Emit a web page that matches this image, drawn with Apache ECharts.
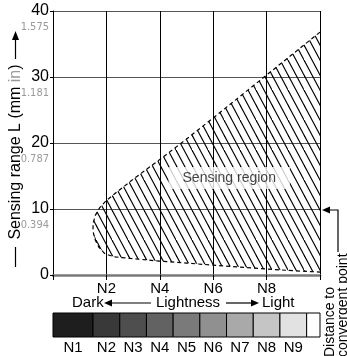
<!DOCTYPE html>
<html>
<head>
<meta charset="utf-8">
<script src="https://cdn.jsdelivr.net/npm/echarts@6/dist/echarts.min.js"></script>
<style>html,body{margin:0;padding:0;background:#fff}#c{width:347px;height:356px}</style>
</head>
<body>
<div id="c"></div>
<script>
// ---- data ----
const xTickValues = [2, 4, 6, 8];
const xTickLabels = ['N2', 'N4', 'N6', 'N8'];
const yTickValues = [0, 10, 20, 30, 40];
const yTickLabels = ['0', '10', '20', '30', '40'];
const ySubLabels = ['', '0.394', '0.787', '1.181', '1.575'];
// sensing region boundary (lightness N, range mm)
const regionX = [10, 8, 6, 5, 4, 3, 2.4, 2.0, 1.75, 1.58, 1.5, 1.5, 1.57, 1.72, 1.95, 2.3, 2.8, 4, 5, 6, 7, 8, 9, 10];
const regionY = [36.8, 30.3, 23.8, 20.6, 17.5, 14.5, 12.6, 11.3, 10.2, 9.0, 7.8, 6.6, 5.4, 4.2, 3.2, 2.75, 2.55, 2.1, 1.8, 1.5, 1.2, 0.9, 0.65, 0.45];
const regionLabel = 'Sensing region';
const regionLabelPos = [6.6, 14.7];
// lightness scale
const grayNames = ['N1', 'N2', 'N3', 'N4', 'N5', 'N6', 'N7', 'N8', 'N9', ''];
const grayColors = ['#1e1e1e', '#393939', '#4e4e4e', '#626262', '#7a7a7a', '#909090', '#a9a9a9', '#c5c5c5', '#e2e2e2', '#ffffff'];

const FONT = '"Liberation Sans", Arial, Helvetica, sans-serif';
const NARROW = '"Liberation Sans Narrow", "DejaVu Sans Condensed", "Liberation Sans", sans-serif';

// hatch pattern
const tile = document.createElement('canvas');
tile.width = 16; tile.height = 30;
(function () {
  const ctx = tile.getContext('2d');
  ctx.strokeStyle = '#000';
  ctx.lineWidth = 1.15;
  const w = 16, h = 30;
  [-8, 0, 8, 16].forEach(function (ox) {
    ctx.beginPath();
    ctx.moveTo(ox - w * 0.2, -h * 0.2);
    ctx.lineTo(ox + w * 1.2, h * 1.2);
    ctx.stroke();
  });
})();
const hatch = { image: tile, repeat: 'repeat' };

const chart = echarts.init(document.getElementById('c'), null, { renderer: 'canvas' });

const cells = grayNames.map(function (n, i) {
  const s = i === 0 ? 0 : i + 0.5;
  const e = Math.min(i + 1.5, 10);
  return [s, e, i];
});

chart.setOption({
  animation: false,
  backgroundColor: '#fff',
  textStyle: { fontFamily: FONT },
  grid: [
    { left: 53, right: 27, top: 11, bottom: 81, outerBoundsMode: 'none', containLabel: false },
    { left: 53, right: 27, top: 313, height: 24, outerBoundsMode: 'none', containLabel: false }
  ],
  xAxis: [
    {
      type: 'value', min: 0, max: 10, interval: 2, gridIndex: 0,
      axisLine: { show: true, onZero: false, lineStyle: { color: '#7a7a7a', width: 2.5 } },
      axisTick: { show: true, length: 5, lineStyle: { color: '#000' } },
      axisLabel: {
        margin: 6, color: '#000', fontSize: 15, fontFamily: FONT,
        formatter: function (v) { const i = xTickValues.indexOf(v); return i >= 0 ? xTickLabels[i] : ''; }
      },
      splitLine: { show: true, lineStyle: { color: '#000', width: 1 } }
    },
    { type: 'value', min: 0, max: 10, gridIndex: 1, show: false }
  ],
  yAxis: [
    {
      type: 'value', min: 0, max: 40, interval: 10, gridIndex: 0,
      axisLine: { show: true, lineStyle: { color: '#000', width: 1 } },
      axisTick: { show: true, length: 3, lineStyle: { color: '#000' } },
      axisLabel: {
        margin: 4, color: '#000', fontFamily: FONT,
        formatter: function (v) {
          const i = yTickValues.indexOf(v);
          if (i < 0) return '';
          return ySubLabels[i] ? '{e| }\n{a|' + yTickLabels[i] + '}\n{b|' + ySubLabels[i] + '}' : '{a|' + yTickLabels[i] + '}';
        },
        rich: {
          e: { fontSize: 10, lineHeight: 18 },
          a: { fontSize: 16, lineHeight: 14, color: '#000', fontFamily: FONT, align: 'right' },
          b: { fontSize: 11, lineHeight: 18, color: '#9a9a9a', fontFamily: NARROW, align: 'right' }
        }
      },
      splitLine: { show: true, lineStyle: { color: '#555', width: 1 } }
    },
    { type: 'value', min: 0, max: 1, gridIndex: 1, show: false }
  ],
  series: [
    {
      type: 'custom', xAxisIndex: 0, yAxisIndex: 0, z: 2,
      data: [[regionX[0], regionY[0]]],
      renderItem: function (params, api) {
        const pts = regionX.map(function (x, i) { return api.coord([x, regionY[i]]); });
        return {
          type: 'group',
          children: [
            { type: 'polygon', shape: { points: pts }, style: { fill: hatch, stroke: null } },
            { type: 'polyline', shape: { points: pts }, style: { fill: null, stroke: '#000', lineWidth: 1.2, lineDash: [4, 3] } }
          ]
        };
      }
    },
    {
      type: 'scatter', xAxisIndex: 0, yAxisIndex: 0, z: 5,
      symbolSize: 0, data: [regionLabelPos],
      label: {
        show: true, position: 'inside', formatter: regionLabel,
        fontSize: 14, color: '#111', fontFamily: FONT,
        backgroundColor: '#fff', padding: [4, 14, 4, 14]
      }
    },
    {
      type: 'custom', xAxisIndex: 1, yAxisIndex: 1, z: 2,
      data: cells,
      renderItem: function (params, api) {
        const p0 = api.coord([api.value(0), 1]);
        const p1 = api.coord([api.value(1), 0]);
        const idx = api.value(2);
        return {
          type: 'group',
          children: [
            { type: 'rect', shape: { x: p0[0], y: p0[1], width: p1[0] - p0[0], height: p1[1] - p0[1] },
              style: { fill: grayColors[idx], stroke: '#000', lineWidth: 1 } },
            { type: 'text', style: { text: grayNames[idx], x: (p0[0] + p1[0]) / 2, y: p1[1] + 11,
              align: 'center', verticalAlign: 'middle', fontSize: 15, fontFamily: FONT, fill: '#000' } }
          ]
        };
      }
    }
  ],
  graphic: [
    // y axis title
    { type: 'text', x: 15.5, y: 152, rotation: Math.PI / 2,
      style: { text: '{t|Sensing range L (mm }{g|in}{t|)}', align: 'center', verticalAlign: 'middle',
        rich: { t: { fontSize: 16, fill: '#000', fontFamily: FONT }, g: { fontSize: 16, fill: '#9a9a9a', fontFamily: FONT } } } },
    { type: 'line', shape: { x1: 15.5, y1: 247, x2: 15.5, y2: 267 }, style: { stroke: '#000', lineWidth: 1.2 } },
    { type: 'line', shape: { x1: 15.5, y1: 40, x2: 15.5, y2: 59 }, style: { stroke: '#000', lineWidth: 1.2 } },
    { type: 'polygon', shape: { points: [[15.5, 31], [12, 40], [19, 40]] }, style: { fill: '#000' } },
    // lightness caption
    { type: 'text', x: 72, y: 303, style: { text: 'Dark', align: 'left', verticalAlign: 'middle', fontSize: 15, fontFamily: FONT, fill: '#000' } },
    { type: 'polygon', shape: { points: [[104, 303], [112, 299.5], [112, 306.5]] }, style: { fill: '#000' } },
    { type: 'line', shape: { x1: 111, y1: 303, x2: 151, y2: 303 }, style: { stroke: '#000', lineWidth: 1.2 } },
    { type: 'text', x: 188, y: 303, style: { text: 'Lightness', align: 'center', verticalAlign: 'middle', fontSize: 15, fontFamily: FONT, fill: '#000' } },
    { type: 'line', shape: { x1: 226, y1: 303, x2: 252, y2: 303 }, style: { stroke: '#000', lineWidth: 1.2 } },
    { type: 'polygon', shape: { points: [[259, 303], [251, 299.5], [251, 306.5]] }, style: { fill: '#000' } },
    { type: 'text', x: 262, y: 303, style: { text: 'Light', align: 'left', verticalAlign: 'middle', fontSize: 15, fontFamily: FONT, fill: '#000' } },
    // distance to convergent point
    { type: 'text', x: 324, y: 357, rotation: Math.PI / 2,
      style: { text: 'Distance to\nconvergent point', align: 'left', verticalAlign: 'top', fontSize: 14, lineHeight: 13, fontFamily: FONT, fill: '#000' } },
    { type: 'polyline', shape: { points: [[338, 252], [338, 210], [329, 210]] }, style: { stroke: '#000', lineWidth: 1.2, fill: null } },
    { type: 'polygon', shape: { points: [[322, 210], [330, 206.5], [330, 213.5]] }, style: { fill: '#000' } }
  ]
});
</script>
</body>
</html>
